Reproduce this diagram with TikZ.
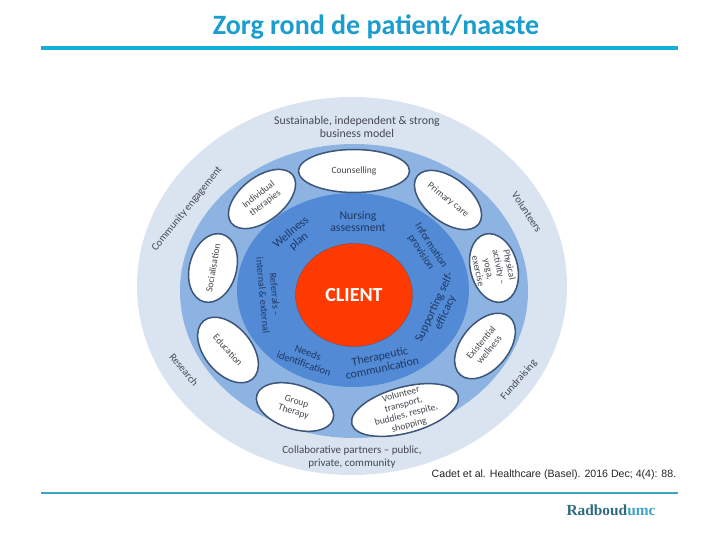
\documentclass[tikz,border=0pt]{standalone}
\usepackage{fontspec}
\setmainfont{Carlito}
\newfontfamily\citefont{Liberation Sans}
\newfontfamily\logofont{Liberation Serif}
\usetikzlibrary{shapes.geometric}
\definecolor{titleblue}{HTML}{1B9DD0}
\definecolor{rulecyan}{HTML}{12AEDB}
\definecolor{ruleteal}{HTML}{3CA6BC}
\definecolor{ringouter}{HTML}{DAE4F1}
\definecolor{ringmiddle}{HTML}{8DB3E3}
\definecolor{ringinner}{HTML}{528AD6}
\definecolor{clientred}{HTML}{FF3A00}
\definecolor{podedge}{HTML}{3D5578}
\definecolor{textgrey}{HTML}{45474F}
\definecolor{textnavy}{HTML}{1F3864}
\definecolor{logoteal}{HTML}{2E6A80}
\definecolor{logolight}{HTML}{3FA3C0}
\tikzset{
  ring/.style={ellipse, inner sep=0pt},
  pod/.style={ellipse, draw=podedge, line width=1.5pt, fill=white, inner sep=0pt},
  podtext/.style={align=center, text=textgrey, inner sep=0pt, font=\fontsize{9.6}{10.6}\selectfont},
  outertext/.style={align=center, text=textgrey, inner sep=0pt, font=\fontsize{11.8}{12.6}\selectfont},
  sidetext/.style={align=center, text=textgrey, inner sep=0pt, font=\fontsize{10.5}{12}\selectfont},
  innertext/.style={align=center, text=textnavy, inner sep=0pt, font=\fontsize{11.8}{12}\selectfont},
  turntext/.style={align=center, text=textnavy, inner sep=0pt, font=\fontsize{10.6}{12}\selectfont}
}
\begin{document}
\begin{tikzpicture}[x=1pt,y=-1pt]
\useasboundingbox (0,0) rectangle (720,540);
\fill[white] (0,0) rectangle (720,540);

\node[text=titleblue, font=\fontsize{28}{30}\bfseries\selectfont] (title) at (376,27) {Zorg rond de patient/naaste};
\coordinate (topl) at (41,48);
\coordinate (topr) at (678,48);
\draw[rulecyan, line width=4pt] (topl) -- (topr);

\node[ring, fill=ringouter, minimum width=430pt, minimum height=378pt] (outer) at (352,286) {};
\node[ring, fill=ringmiddle, minimum width=348pt, minimum height=294pt] (middle) at (354,291) {};
\node[ring, fill=ringinner, minimum width=232pt, minimum height=194pt] (inner) at (353,290) {};
\node[ring, draw=podedge!70!clientred, fill=clientred, minimum width=117pt, minimum height=103pt] (client) at (354,295) {};
\node[text=white, font=\fontsize{20}{20}\bfseries\selectfont] (clienttext) at (client) {CLIENT};

\node[pod, minimum width=111pt, minimum height=43pt] (couns) at (354,171) {};
\node[pod, minimum width=78pt, minimum height=44pt, rotate=-38] (prim) at (448,200) {};
\node[pod, minimum width=78pt, minimum height=44pt, rotate=38] (indiv) at (262,199) {};
\node[pod, minimum width=70pt, minimum height=47pt, rotate=75] (socia) at (213,268) {};
\node[pod, minimum width=76pt, minimum height=47pt, rotate=-50] (educ) at (228,350) {};
\node[pod, minimum width=80pt, minimum height=44pt, rotate=-18] (group) at (295,407) {};
\node[pod, minimum width=110pt, minimum height=46pt, rotate=15] (volun) at (405,410) {};
\node[pod, minimum width=76pt, minimum height=47pt, rotate=50] (exist) at (485,346) {};
\node[pod, minimum width=70pt, minimum height=47pt, rotate=-75] (physi) at (494,268) {};

\node[podtext] (counstext) at (couns) {Counselling};
\node[podtext, rotate=-38] (primtext) at (prim) {Primary care};
\node[podtext, rotate=38] (indivtext) at (indiv) {Individual\\therapies};
\node[podtext, rotate=80] (sociatext) at (socia) {Socialisation};
\node[podtext, rotate=-48] (eductext) at (educ) {Education};
\node[podtext, rotate=-17] (grouptext) at (group) {Group\\Therapy};
\node[podtext, rotate=15] (voluntext) at (volun) {Volunteer\\transport,\\buddies, respite,\\shopping};
\node[podtext, rotate=50] (existtext) at (exist) {Existential\\wellness};
\node[podtext, rotate=-78] (physitext) at (physi) {Physical\\activity --\\yoga,\\exercise};

\node[outertext] (sustain) at (357,127) {Sustainable, independent \& strong\\business model};
\node[sidetext, rotate=51] (commun) at (187,209) {Community engagement};
\node[sidetext, rotate=-57] (volunt) at (527,212) {Volunteers};
\node[sidetext, rotate=-50] (resear) at (184,370) {Research};
\node[sidetext, rotate=49] (fundr) at (519,380) {Fundraising};
\node[outertext, font=\fontsize{11}{12.6}\selectfont] (collab) at (352,457) {Collaborative partners -- public,\\private, community};

\node[innertext] (nursing) at (358,221) {Nursing\\assessment};
\node[innertext, rotate=40] (wellness) at (295,237) {Wellness\\plan};
\node[turntext, rotate=-57] (inform) at (426,249) {Information\\provision};
\node[innertext, rotate=65] (support) at (440,310) {Supporting self-\\efficacy};
\node[innertext, rotate=12] (therap) at (381,362) {Therapeutic\\communication};
\node[turntext, rotate=-20] (needs) at (306,358) {Needs\\identification};
\node[turntext, font=\fontsize{10}{12}\selectfont, rotate=-85] (refer) at (269,295) {Referrals --\\internal \& external};

\node[font=\citefont\fontsize{10.6}{12}\selectfont, text=black!85] (cite) at (554,475) {Cadet et al. Healthcare (Basel). 2016 Dec; 4(4): 88.};
\coordinate (botl) at (41,493);
\coordinate (botr) at (678,493);
\draw[ruleteal, line width=1.6pt] (botl) -- (botr);
\node[font=\logofont\fontsize{15.4}{15.4}\bfseries\selectfont, text=logoteal] (logo) at (611,510) {Radboud\textcolor{logolight}{umc}};
\end{tikzpicture}
\end{document}
